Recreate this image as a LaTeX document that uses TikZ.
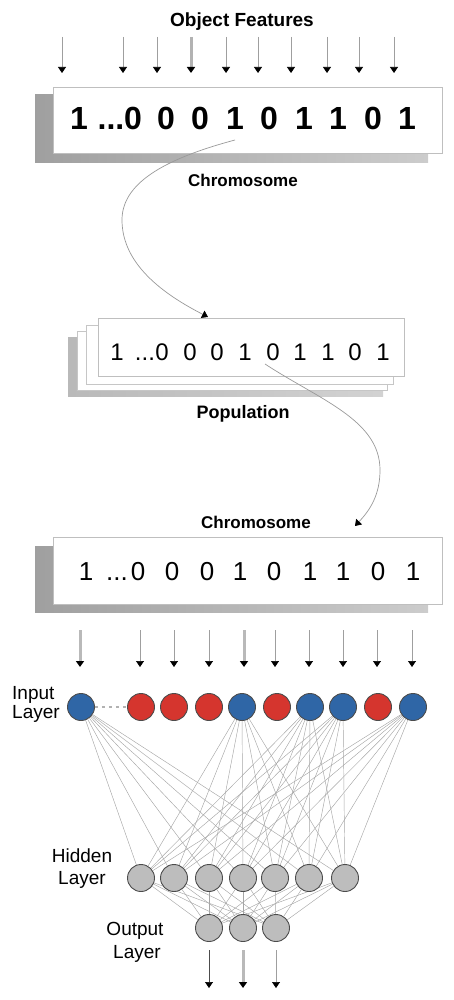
\documentclass[tikz,border=0pt]{standalone}
\usepackage{fontspec}
\setmainfont{Liberation Sans}
\usetikzlibrary{arrows.meta,backgrounds}
\definecolor{nodeblue}{HTML}{2F66A6}
\definecolor{nodered}{HTML}{D5352E}
\definecolor{nodegray}{HTML}{BDBDBD}
\begin{document}
\begin{tikzpicture}[x=1pt,y=-1pt,
  tip/.style={-{Triangle[width=8pt,length=6pt,black]}},
  feat/.style={tip, draw=gray!75, line width=0.7pt},
  featthick/.style={tip, draw=gray!55, line width=3pt},
  box/.style={draw=gray!50, fill=white, line width=0.8pt, inner sep=0pt},
  shadowbox/.style={left color=gray!75, right color=gray!40, inner sep=0pt, draw=none},
  sheet/.style={draw=gray!45, fill=white, line width=0.6pt, inner sep=0pt},
  digA/.style={anchor=base, inner sep=0pt, font=\fontsize{32}{32}\selectfont\bfseries},
  digB/.style={anchor=base, inner sep=0pt, font=\fontsize{24}{24}\selectfont},
  digC/.style={anchor=base, inner sep=0pt, font=\fontsize{26}{26}\selectfont},
  title/.style={anchor=base, inner sep=0pt, font=\fontsize{17}{17}\selectfont\bfseries},
  layerlab/.style={anchor=base, inner sep=0pt, font=\fontsize{19}{19}\selectfont},
  neuron/.style={circle, draw=black!70, line width=0.9pt, minimum size=27pt, inner sep=0pt},
  conn/.style={draw=gray!70, line width=0.45pt},
  curvearrow/.style={tip, draw=gray!80, line width=0.7pt}
]
\useasboundingbox (0,0) rectangle (454,1000);

% ---------- Top section ----------
\node[title, font=\fontsize{19}{19}\selectfont\bfseries] (objf) at (242,27) {Object Features};

\foreach \x [count=\i] in {62,123,157,191,226,258,291,327,359,394} {
  \coordinate (ta\i) at (\x,37);
  \coordinate (tb\i) at (\x,73);
}
\foreach \i in {1,2,3,5,6,7,8,9,10} { \draw[feat] (ta\i) -- (tb\i); }
\draw[featthick, draw=gray!60] (ta4) -- (tb4);

\node[shadowbox, minimum width=393pt, minimum height=68pt] (sh1) at (231.5,128.5) {};
\node[box, minimum width=389pt, minimum height=66pt] (b1) at (247.5,120) {};
\foreach \t/\x [count=\i] in {1/79,{...}/111,0/133,0/166,0/200,1/235,0/269,1/304,1/338,0/373,1/407} {
  \node[digA] (da\i) at (\x,130) {\t};
}
\node[title] (chr1) at (243,187) {Chromosome};

% curve 1
\coordinate (c1s) at (235,140);
\coordinate (c1m) at (122,220);
\coordinate (c1e) at (208,317);

% ---------- Population ----------
\node[shadowbox, left color=gray!55, right color=gray!35, minimum width=315pt, minimum height=59pt] (psh) at (225.5,366.5) {};
\node[sheet, minimum width=310pt, minimum height=59pt] (ps3) at (232,360.5) {};
\node[sheet, minimum width=307pt, minimum height=59pt] (ps2) at (239.5,354.5) {};
\node[box, minimum width=306pt, minimum height=58pt] (b2) at (251,347) {};
\foreach \t/\x [count=\i] in {1/117,{...}/145,0/162,0/190,0/217,1/245,0/273,1/300,1/328,0/355,1/383} {
  \node[digB] (db\i) at (\x,360) {\t};
}
\node[title, font=\fontsize{18}{18}\selectfont\bfseries] (pop) at (243,418) {Population};

\draw[curvearrow] (c1s) .. controls (160,160) and (122,185) .. (c1m)
  .. controls (122,265) and (165,295) .. (c1e);

% curve 2
\coordinate (c2s) at (265,364);
\coordinate (c2m) at (380,470);
\coordinate (c2e) at (355,526);
\draw[curvearrow] (c2s) .. controls (320,400) and (380,420) .. (c2m)
  .. controls (380,495) and (370,510) .. (c2e);

% ---------- Chromosome 2 ----------
\node[title] (chr2) at (256,528) {Chromosome};
\node[shadowbox, minimum width=393pt, minimum height=66pt] (sh3) at (231.5,579) {};
\node[box, minimum width=389pt, minimum height=67pt] (b3) at (247.5,570.5) {};
\foreach \t/\x [count=\i] in {1/86,{...}/117,0/138,0/172,0/207,1/240,0/274,1/310,1/343,0/378,1/413} {
  \node[digC] (dc\i) at (\x,580) {\t};
}

\foreach \x [count=\i] in {80,140,174,209,244,275,309,343,377,412} {
  \coordinate (ia\i) at (\x,630);
  \coordinate (ib\i) at (\x,667);
}
\foreach \i in {2,3,4,6,7,8,9,10} { \draw[feat] (ia\i) -- (ib\i); }
\draw[featthick] (ia1) -- (ib1);
\draw[featthick] (ia5) -- (ib5);

% ---------- Network ----------
\foreach \x/\c [count=\i] in {81/nodeblue,141/nodered,174/nodered,209/nodered,242/nodeblue,277/nodered,310/nodeblue,343/nodeblue,378/nodered,413/nodeblue} {
  \node[neuron, fill=\c] (in\i) at (\x,707) {};
}
\foreach \x [count=\i] in {141,174,209,243,275,309,345} {
  \node[neuron, fill=nodegray] (h\i) at (\x,878) {};
}
\foreach \x [count=\i] in {209,243,276} {
  \node[neuron, fill=nodegray] (o\i) at (\x,928) {};
}

\begin{scope}[on background layer]
  \foreach \a in {1,5,7,8,10} {
    \foreach \b in {1,...,7} { \draw[conn] (in\a) -- (h\b); }
  }
  \foreach \a in {1,...,7} {
    \foreach \b in {1,2,3} { \draw[conn] (h\a) -- (o\b); }
  }
\end{scope}
\draw[gray!60, line width=1.2pt, dash pattern=on 3pt off 4pt] (in1) -- (in2);

\node[layerlab, anchor=base west] (inl1) at (12,699) {Input};
\node[layerlab, anchor=base west] (inl2) at (12,718) {Layer};
\node[layerlab] (hl1) at (82,862) {Hidden};
\node[layerlab] (hl2) at (82,884) {Layer};
\node[layerlab] (ol1) at (135,935) {Output};
\node[layerlab] (ol2) at (137,958) {Layer};

\foreach \x [count=\i] in {209,243,276} {
  \coordinate (oa\i) at (\x,950);
  \coordinate (ob\i) at (\x,988);
}
\draw[feat, draw=black!70] (oa1) -- (ob1);
\draw[featthick] (oa2) -- (ob2);
\draw[feat] (oa3) -- (ob3);
\end{tikzpicture}
\end{document}
